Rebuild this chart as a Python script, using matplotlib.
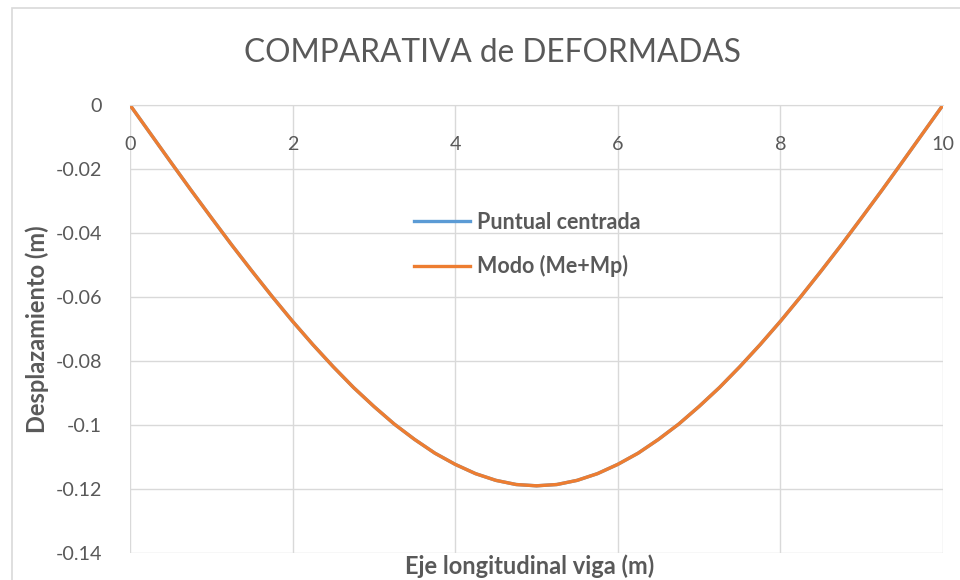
import matplotlib.pyplot as plt
from matplotlib.patches import Rectangle

# Posiciones a lo largo de la viga (m) y flechas de cada modelo (m)
x_viga = [0, 0.25, 0.5, 0.75, 1, 1.25, 1.5, 1.75, 2, 2.25, 2.5, 2.75,
          3, 3.25, 3.5, 3.75, 4, 4.25, 4.5, 4.75, 5,
          5.25, 5.5, 5.75, 6, 6.25, 6.5, 6.75, 7, 7.25, 7.5, 7.75,
          8, 8.25, 8.5, 8.75, 9, 9.25, 9.5, 9.75, 10]
puntual_centrada = [0, -0.0089, -0.0178, -0.0266, -0.0352, -0.0437, -0.0519,
                    -0.0599, -0.0676, -0.0749, -0.0818, -0.0883, -0.0942,
                    -0.0997, -0.1045, -0.1088, -0.1123, -0.1152, -0.1173,
                    -0.1186, -0.1190,
                    -0.1186, -0.1173, -0.1152, -0.1123, -0.1088, -0.1045,
                    -0.0997, -0.0942, -0.0883, -0.0818, -0.0749, -0.0676,
                    -0.0599, -0.0519, -0.0437, -0.0352, -0.0266, -0.0178,
                    -0.0089, 0]
modo_me_mp = [0, -0.0089, -0.0178, -0.0266, -0.0352, -0.0437, -0.0519,
              -0.0599, -0.0676, -0.0749, -0.0818, -0.0883, -0.0942,
              -0.0997, -0.1045, -0.1088, -0.1123, -0.1152, -0.1173,
              -0.1186, -0.1190,
              -0.1186, -0.1173, -0.1152, -0.1123, -0.1088, -0.1045,
              -0.0997, -0.0942, -0.0883, -0.0818, -0.0749, -0.0676,
              -0.0599, -0.0519, -0.0437, -0.0352, -0.0266, -0.0178,
              -0.0089, 0]

x_ticks = [0, 2, 4, 6, 8, 10]
y_ticks = [0, -0.02, -0.04, -0.06, -0.08, -0.1, -0.12, -0.14]
y_labels = ['0', '-0.02', '-0.04', '-0.06', '-0.08', '-0.1', '-0.12', '-0.14']

plt.rcParams['font.family'] = ['Lato', 'DejaVu Sans']
gris_texto = '#595959'
gris_rejilla = '#d9d9d9'

fig = plt.figure(figsize=(9.6, 5.8), dpi=100)
fig.patches.append(Rectangle((12 / 960, -0.05), 1.0, 1 - 8 / 580 + 0.05,
                             transform=fig.transFigure, fill=False,
                             edgecolor=gris_rejilla, linewidth=1.2))

ax = fig.add_axes([130 / 960, 1 - 553 / 580, 813 / 960, 448 / 580])

ax.plot(x_viga, puntual_centrada, color='#5B9BD5', linewidth=2.4,
        label='Puntual centrada')
ax.plot(x_viga, modo_me_mp, color='#ED7D31', linewidth=2.4,
        label='Modo (Me+Mp)')

ax.set_xlim(0, 10)
ax.set_ylim(-0.14, 0)
ax.set_xticks(x_ticks)
ax.set_yticks(y_ticks)
ax.set_yticklabels(y_labels)
ax.grid(True, color=gris_rejilla, linewidth=1)
ax.set_axisbelow(True)

for lado in ['top', 'right', 'left']:
    ax.spines[lado].set_visible(False)
ax.spines['bottom'].set_position(('data', 0))
ax.spines['bottom'].set_color(gris_rejilla)
ax.tick_params(axis='both', length=0, labelsize=14.2, labelcolor=gris_texto)
ax.tick_params(axis='x', pad=22)
ax.tick_params(axis='y', pad=20)

fig.text(492 / 960, 1 - 53 / 580, 'COMPARATIVA de DEFORMADAS', ha='center',
         va='center', fontsize=22.8, color=gris_texto)
fig.text(530 / 960, 1 - 566 / 580, 'Eje longitudinal viga (m)', ha='center',
         va='center', fontsize=17, fontweight='bold', color=gris_texto)
fig.text(37 / 960, 1 - 329 / 580, 'Desplazamiento (m)', ha='center',
         va='center', rotation=90, fontsize=17, fontweight='bold',
         color=gris_texto)

ax.legend(loc='upper left', bbox_to_anchor=(0.326, 0.805), frameon=False,
          labelcolor=gris_texto, handlelength=2.6, handletextpad=0.3,
          labelspacing=1.05, prop={'weight': 'bold', 'size': 15.5})

fig.savefig('out.png', dpi=100)
